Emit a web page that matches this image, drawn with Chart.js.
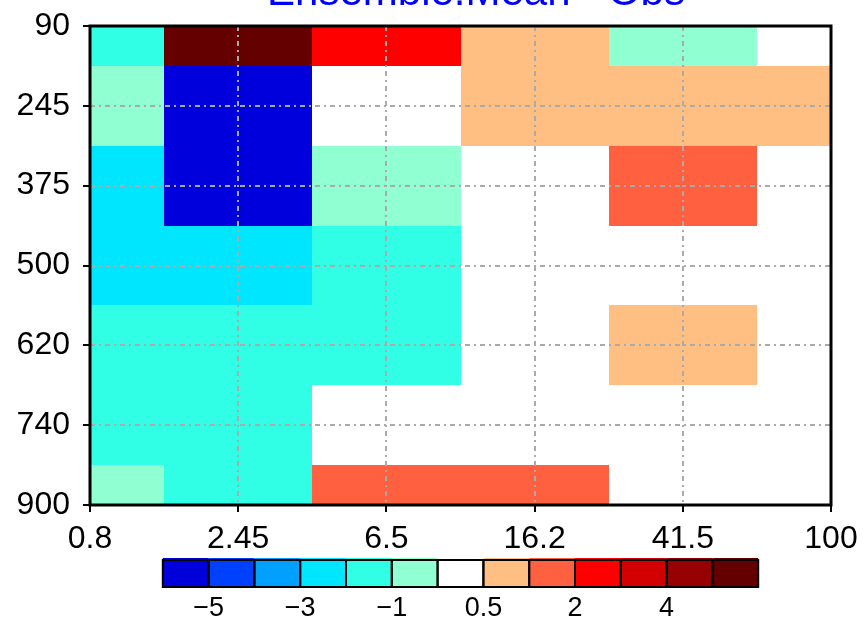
<!DOCTYPE html>
<html><head><meta charset="utf-8">
<script src="https://cdn.jsdelivr.net/npm/chart.js@4/dist/chart.umd.min.js"></script>
<style>html,body{margin:0;padding:0;background:#fff;}#wrap{width:865px;height:620px;}</style>
</head><body><div id="wrap"><canvas id="c" width="865" height="620"></canvas></div>
<script>
// ---- data ----
const titleText = 'Ensemble.Mean - Obs';
const xLabels = ['0.8', '2.45', '6.5', '16.2', '41.5', '100'];
const yLabels = ['90', '245', '375', '500', '620', '740', '900'];
// one array per pressure level (top to bottom), values per x category
const row90  = [-1.5,  5.5,  2.5, 0.8, -0.7,  0.1];
const row245 = [-0.7, -5.6,  0.2, 0.7,  0.9,  0.8];
const row375 = [-2.4, -5.3, -0.8, 0.1,  1.4,  0.0];
const row500 = [-2.6, -2.3, -1.3, 0.2, -0.1,  0.0];
const row620 = [-1.4, -1.6, -1.2, 0.3,  0.7,  0.1];
const row740 = [-1.7, -1.5,  0.0, -0.2, 0.1,  0.2];
const row900 = [-0.8, -1.6,  1.3, 1.6,  0.0, -0.1];
const levels = [-5, -4, -3, -2, -1, -0.5, 0.5, 1, 2, 3, 4, 5];
const levelColors = ['#0000DC', '#0040FF', '#00A0FF', '#00E6FF', '#30FFE6', '#90FFD2',
                     '#FFFFFF', '#FFBE82', '#FF6040', '#FF0000', '#D20000', '#960000', '#640000'];
const colorbarLabels = ['-5', '', '-3', '', '-1', '', '0.5', '', '2', '', '4', ''];

const rows = [row90, row245, row375, row500, row620, row740, row900];

function colorFor(v) {
  let k = 0;
  while (k < levels.length && v >= levels[k]) k++;
  return levelColors[k];
}

const points = [];
rows.forEach((r, j) => r.forEach((v, i) => points.push({x: i, y: j, v: v})));

const FONT = '"Liberation Sans", Arial, sans-serif';

const cellPlugin = {
  id: 'cells',
  beforeDatasetsDraw(chart) {
    const ctx = chart.ctx, xs = chart.scales.x, ys = chart.scales.y;
    const nx = xLabels.length - 1, ny = yLabels.length - 1;
    ctx.save();
    chart.data.datasets[0].data.forEach(p => {
      const xa = Math.round(xs.getPixelForValue(Math.max(p.x - 0.5, 0)));
      const xb = Math.round(xs.getPixelForValue(Math.min(p.x + 0.5, nx)));
      const ya = Math.round(ys.getPixelForValue(Math.max(p.y - 0.5, 0)));
      const yb = Math.round(ys.getPixelForValue(Math.min(p.y + 0.5, ny)));
      ctx.fillStyle = colorFor(p.v);
      ctx.fillRect(Math.min(xa, xb), Math.min(ya, yb), Math.abs(xb - xa), Math.abs(yb - ya));
    });
    ctx.restore();
  }
};

const framePlugin = {
  id: 'frame',
  afterDraw(chart) {
    const ctx = chart.ctx, a = chart.chartArea;
    ctx.save();
    // plot frame
    ctx.strokeStyle = '#000';
    ctx.lineWidth = 3;
    ctx.strokeRect(a.left, a.top, a.right - a.left, a.bottom - a.top);
    // title (cut at the top of the picture)
    ctx.fillStyle = '#0000FF';
    ctx.font = '42px ' + FONT;
    ctx.textAlign = 'center';
    ctx.textBaseline = 'alphabetic';
    ctx.fillText(titleText, 476, 5);
    // colour bar
    const n = levelColors.length;
    const bw = 45.8, bh = 27;
    const cx = (a.left + a.right) / 2;
    const x0 = cx - n * bw / 2;
    const y0 = a.bottom + 55;
    for (let k = 0; k < n; k++) {
      const bx = x0 + k * bw;
      ctx.fillStyle = levelColors[k];
      ctx.fillRect(bx, y0 - 2, bw, bh + 2);
    }
    ctx.strokeStyle = '#000';
    ctx.lineWidth = 2;
    for (let k = 0; k < n; k++) {
      ctx.strokeRect(x0 + k * bw, y0, bw, bh);
    }
    ctx.fillStyle = '#000';
    ctx.font = '27px ' + FONT;
    ctx.textAlign = 'center';
    ctx.textBaseline = 'middle';
    colorbarLabels.forEach((t, k) => {
      if (!t) return;
      ctx.fillText(t.replace('-', '\u2212'), x0 + (k + 1) * bw, y0 + bh + 22);
    });
    ctx.restore();
  }
};

const gridColor = (c) => (c.index === 0 || c.index === c.chart.scales[c.scale.id].ticks.length - 1) ? 'rgba(0,0,0,0)' : '#aaaaaa';

new Chart(document.getElementById('c'), {
  type: 'scatter',
  data: { datasets: [{ data: points, pointRadius: 0, pointHoverRadius: 0 }] },
  options: {
    responsive: false,
    animation: false,
    events: [],
    layout: { padding: { left: 0, top: 26, right: 34, bottom: 65 } },
    plugins: { legend: { display: false }, tooltip: { enabled: false }, title: { display: false } },
    scales: {
      x: {
        type: 'linear', min: 0, max: xLabels.length - 1,
        afterFit: s => { s.height = 50; s.paddingLeft = 0; s.paddingRight = 0; },
        ticks: { stepSize: 1, autoSkip: false, maxRotation: 0, padding: 8, color: '#000',
                 font: { family: FONT, size: 32 }, callback: v => xLabels[v] },
        grid: { z: 1, color: gridColor, lineWidth: 2, tickColor: '#000', tickWidth: 2, tickLength: 7, tickBorderDash: [] },
        border: { display: false, dash: [5, 4, 2, 4] }
      },
      y: {
        type: 'linear', min: 0, max: yLabels.length - 1, reverse: true,
        afterFit: s => { s.width = 90; s.paddingTop = 0; s.paddingBottom = 0; },
        ticks: { stepSize: 1, autoSkip: false, padding: 13, color: '#000',
                 font: { family: FONT, size: 32 }, callback: v => yLabels[v] },
        grid: { z: 1, color: gridColor, lineWidth: 2, tickColor: '#000', tickWidth: 2, tickLength: 7, tickBorderDash: [] },
        border: { display: false, dash: [5, 4, 2, 4] }
      }
    }
  },
  plugins: [cellPlugin, framePlugin]
});
</script></body></html>
